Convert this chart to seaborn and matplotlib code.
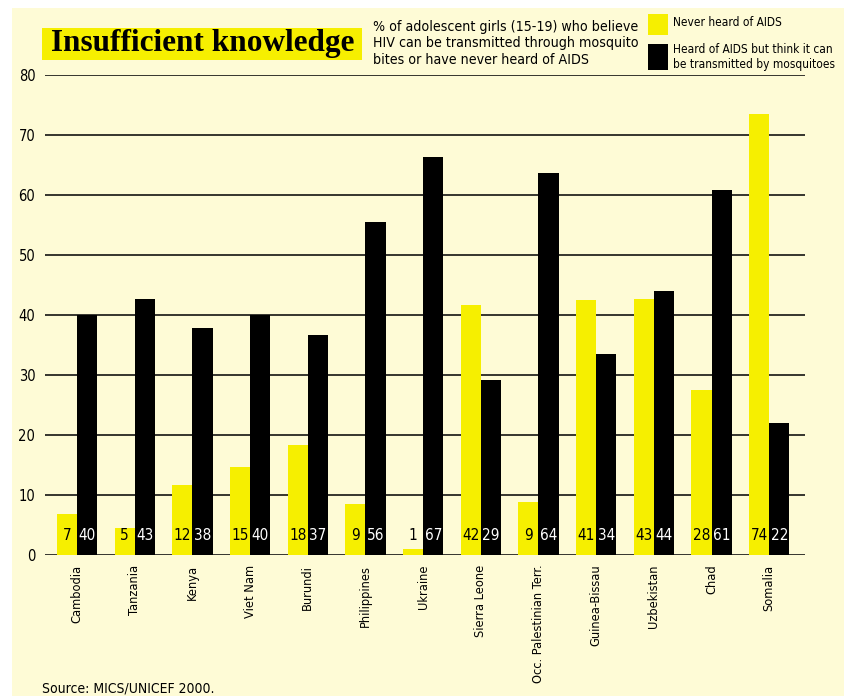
import pandas as pd
import numpy as np
import seaborn as sns
from matplotlib import pyplot as plt
from matplotlib.patches import Rectangle

countries = ["Cambodia", "Tanzania", "Kenya", "Viet Nam", "Burundi", "Philippines",
             "Ukraine", "Sierra Leone", "Occ. Palestinian Terr.", "Guinea-Bissau",
             "Uzbekistan", "Chad", "Somalia"]
# bar heights as drawn
never_heard = [6.8, 4.5, 11.7, 14.7, 18.3, 8.5, 1.0, 41.7, 8.8, 42.5, 42.7, 27.5, 73.5]
think_mosquito = [40.0, 42.7, 37.8, 40.0, 36.7, 55.5, 66.3, 29.2, 63.7, 33.5, 44.0, 60.8, 22.0]
# numbers printed in the bars
never_labels = ["7", "5", "12", "15", "18", "9", "1", "42", "9", "41", "43", "28", "74"]
think_labels = ["40", "43", "38", "40", "37", "56", "67", "29", "64", "34", "44", "61", "22"]

s1 = "Never heard of AIDS"
s2 = "Heard of AIDS but think it can\nbe transmitted by mosquitoes"

df = pd.DataFrame({"Country": countries * 2,
                   "Value": never_heard + think_mosquito,
                   "Group": [s1] * len(countries) + [s2] * len(countries)})

yellow = "#f6ef00"
bg = "#fefbd6"

sns.set_style("white")
plt.rcParams["font.family"] = ["DejaVu Sans"]
plt.rcParams["font.stretch"] = "condensed"
plt.rcParams["text.color"] = "black"
plt.rcParams["xtick.color"] = "black"
plt.rcParams["ytick.color"] = "black"

fig = plt.figure(figsize=(8.45, 6.96), dpi=100, facecolor="white")
fig.add_artist(Rectangle((12 / 845, 0), 1, 1 - 8 / 696, transform=fig.transFigure,
                         facecolor=bg, edgecolor="none", zorder=-10))
ax = fig.add_axes([45 / 845, 141 / 696, 760 / 845, 480 / 696])
ax.set_facecolor("none")

sns.barplot(data=df, x="Country", y="Value", hue="Group", order=countries,
            palette=[yellow, "black"], width=0.7, saturation=1, ax=ax,
            legend=False, zorder=3, linewidth=0, edgecolor="none")

ax.set_ylim(0, 80)
ax.set_xlim(-0.555, 12.62)
ax.set_yticks(range(0, 81, 10))
for y in range(0, 81, 10):
    ax.axhline(y, color="black", lw=1.1, zorder=1)
sns.despine(ax=ax, left=True, bottom=True)
ax.tick_params(axis="y", length=0, pad=7, labelsize=10.5)
ax.tick_params(axis="x", length=0, pad=7, labelsize=9.2)
plt.setp(ax.get_xticklabels(), rotation=90, va="top", ha="center")
ax.set_xlabel("")
ax.set_ylabel("")

for cont, labels, col in zip(ax.containers, [never_labels, think_labels], ["black", "white"]):
    for bar, lab in zip(cont, labels):
        ax.text(bar.get_x() + bar.get_width() / 2, 3.3, lab, ha="center", va="center",
                color=col, fontsize=11, zorder=5)

# title block
fig.add_artist(Rectangle((42 / 845, 1 - 60 / 696), 320 / 845, 32 / 696,
                         transform=fig.transFigure, facecolor=yellow, edgecolor="none"))
fig.text(203 / 845, 1 - 43 / 696, "Insufficient knowledge", ha="center", va="center",
         fontsize=22.5, fontweight="bold", fontstretch="normal",
         family=["Liberation Serif", "DejaVu Serif"])
fig.text(373 / 845, 1 - 20 / 696,
         "% of adolescent girls (15-19) who believe\nHIV can be transmitted through mosquito\nbites or have never heard of AIDS",
         ha="left", va="top", fontsize=10.2, linespacing=1.22)

# legend
fig.add_artist(Rectangle((648 / 845, 1 - 35 / 696), 20 / 845, 21 / 696,
                         transform=fig.transFigure, facecolor=yellow, edgecolor="none"))
fig.add_artist(Rectangle((648 / 845, 1 - 70 / 696), 20 / 845, 26 / 696,
                         transform=fig.transFigure, facecolor="black", edgecolor="none"))
fig.text(673 / 845, 1 - 22 / 696, s1, ha="left", va="center", fontsize=8.6)
fig.text(673 / 845, 1 - 57 / 696, s2, ha="left", va="center", fontsize=8.6, linespacing=1.25)

fig.text(42 / 845, 1 - 688 / 696, "Source: MICS/UNICEF 2000.", ha="left", va="center", fontsize=10)

fig.savefig("out.png", dpi=100, facecolor="white")
